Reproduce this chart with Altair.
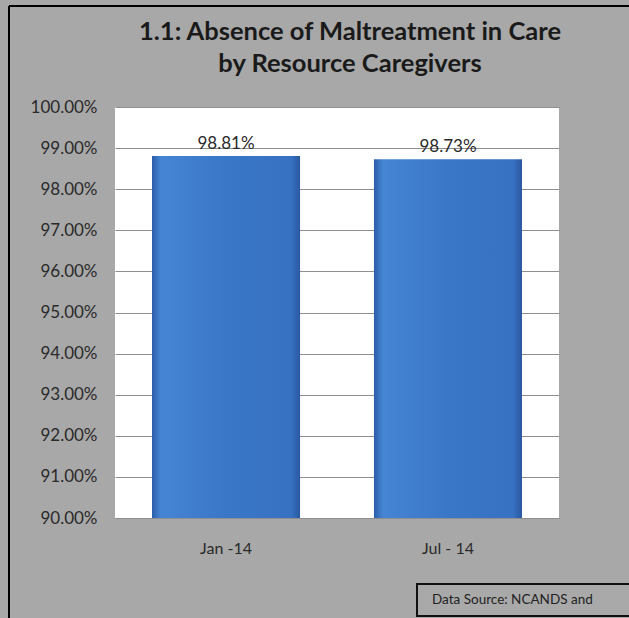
import altair as alt
import pandas as pd

periods = ["Jan -14", "Jul - 14"]
values = [0.9881, 0.9873]
y_ticks = [0.90, 0.91, 0.92, 0.93, 0.94, 0.95, 0.96, 0.97, 0.98, 0.99, 1.00]
title_lines = ["1.1: Absence of Maltreatment in Care", "by Resource Caregivers"]
source_note = ["Data Source: NCANDS and"]

df = pd.DataFrame({"period": periods, "value": values})
note_df = pd.DataFrame({"note": source_note})
title_df = pd.DataFrame({"line": title_lines, "ypos": [-67, -35]})

FONT = "Lato"

x_enc = alt.X("period:N", sort=periods, title=None,
              scale=alt.Scale(paddingInner=0.333, paddingOuter=0.1667),
              axis=alt.Axis(labelAngle=0, labelFont=FONT, labelFontSize=16,
                            labelColor="#2a2a2a", ticks=False, domain=False,
                            labelPadding=22))
y_enc = alt.Y("value:Q", title=None,
              scale=alt.Scale(domain=[0.90, 1.00], zero=False, nice=False),
              axis=alt.Axis(values=y_ticks, format=".2%", labelFont=FONT,
                            labelFontSize=17, labelColor="#2a2a2a", ticks=False,
                            domain=False, labelPadding=18, gridColor="#8f8f8f",
                            gridWidth=1))

grad = alt.Gradient(
    gradient="linear", x1=0, x2=1, y1=0, y2=0,
    stops=[
        alt.GradientStop(offset=0.0, color="#2c5ea8"),
        alt.GradientStop(offset=0.06, color="#4585d3"),
        alt.GradientStop(offset=0.5, color="#3a77c7"),
        alt.GradientStop(offset=0.94, color="#3771c2"),
        alt.GradientStop(offset=1.0, color="#2a58a0"),
    ])

bars = alt.Chart(df).mark_bar(color=grad).encode(
    x=x_enc, y=y_enc, y2=alt.datum(0.90))

labels = alt.Chart(df).mark_text(font=FONT, fontSize=17, color="#2a2a2a",
                                 baseline="bottom", dy=-3).encode(
    x=alt.X("period:N", sort=periods),
    y=alt.Y("value:Q"),
    text=alt.Text("value:Q", format=".2%"))

title = alt.Chart(title_df).mark_text(font=FONT, fontSize=25.5, fontWeight="bold",
                                      color="#1a1a1a", align="center",
                                      baseline="alphabetic").encode(
    x=alt.value(235), y=alt.Y("ypos:Q", scale=None),
    text="line:N")

box = alt.Chart(note_df).mark_rect(fill="#a9a9a9", stroke="#111111",
                                   strokeWidth=2).encode(
    x=alt.value(302), x2=alt.value(540), y=alt.value(477), y2=alt.value(509))

note = alt.Chart(note_df).mark_text(font=FONT, fontSize=13.5, color="#222222",
                                    align="left", baseline="middle").encode(
    x=alt.value(317), y=alt.value(493), text="note:N")

frame_left = alt.Chart(note_df).mark_rule(color="#000000", strokeWidth=2).encode(
    x=alt.value(-106), y=alt.value(-101), y2=alt.value(520))
frame_top = alt.Chart(note_df).mark_rule(color="#000000", strokeWidth=2).encode(
    y=alt.value(-101), x=alt.value(-106), x2=alt.value(520))

chart = alt.layer(bars, labels, title, box, note, frame_left, frame_top).properties(
    width=444, height=411,
    autosize=alt.AutoSizeParams(type="none"),
    padding={"left": 115, "top": 107, "right": 70, "bottom": 100},
    background="#a8a8a8",
).configure_view(fill="#ffffff", stroke=None)

chart.save("out.html", embed_options={"renderer": "svg", "actions": False})
